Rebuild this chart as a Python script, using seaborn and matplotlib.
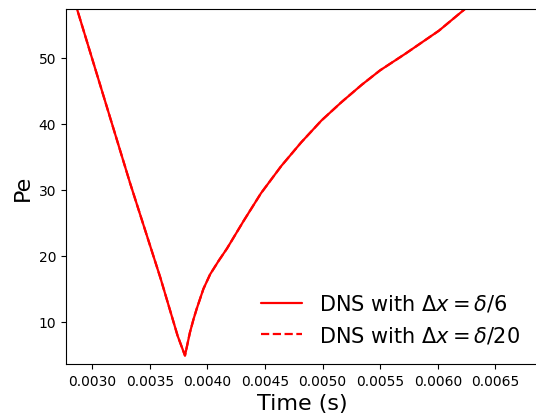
import numpy as np
import pandas as pd
import seaborn as sns
import matplotlib
matplotlib.use("Agg")
import matplotlib.pyplot as plt

# values
time_s = [0.00285, 0.002869, 0.00333, 0.003594, 0.003742, 0.003806,
          0.003849, 0.003880, 0.003908, 0.003966, 0.004024, 0.004100,
          0.004170, 0.004315, 0.004466, 0.004641, 0.004815, 0.004990,
          0.005165, 0.005339, 0.005499, 0.005717, 0.006009, 0.006236,
          0.00630]
pe_dx6 = [58.5, 57.4, 31.0, 16.6, 7.9, 4.9,
          8.4, 10.4, 12.0, 15.0, 17.2, 19.3,
          21.1, 25.3, 29.5, 33.6, 37.2, 40.5,
          43.3, 45.9, 48.1, 50.6, 54.1, 57.4,
          58.3]
# the finer grid run lies on top of the coarse one
pe_dx20 = list(pe_dx6)

labels = [r"DNS with $\Delta x = \delta/6$", r"DNS with $\Delta x = \delta/20$"]

sns.set_style("ticks")
plt.rcParams['font.family'] = ['DejaVu Sans']
plt.rcParams['text.color'] = 'black'
plt.rcParams['axes.labelcolor'] = 'black'
plt.rcParams['xtick.color'] = 'black'
plt.rcParams['ytick.color'] = 'black'

fig = plt.figure(figsize=(5.36, 4.14), dpi=100)
ax = fig.add_axes([0.123, 0.118, 0.882, 0.858])

df = pd.DataFrame({'t': time_s, 'a': pe_dx6, 'b': pe_dx20})
sns.lineplot(data=df, x='t', y='a', color='red', linewidth=1.6, ax=ax, label=labels[0])
sns.lineplot(data=df, x='t', y='b', color='red', linewidth=1.6, linestyle='--', ax=ax, label=labels[1])

ax.set_xlim(0.002773, 0.006875)
ax.set_ylim(3.6, 57.4)
ax.set_xticks([0.0030, 0.0035, 0.0040, 0.0045, 0.0050, 0.0055, 0.0060, 0.0065])
ax.set_yticks([10, 20, 30, 40, 50])
ax.tick_params(labelsize=10, colors='black')
ax.set_xlabel("Time (s)", fontsize=16, color='black')
ax.set_ylabel("Pe", fontsize=16, color='black')
for sp in ax.spines.values():
    sp.set_color('black')

ax.legend(loc='lower right', fontsize=15, frameon=False)

fig.savefig("out.png", dpi=100)
